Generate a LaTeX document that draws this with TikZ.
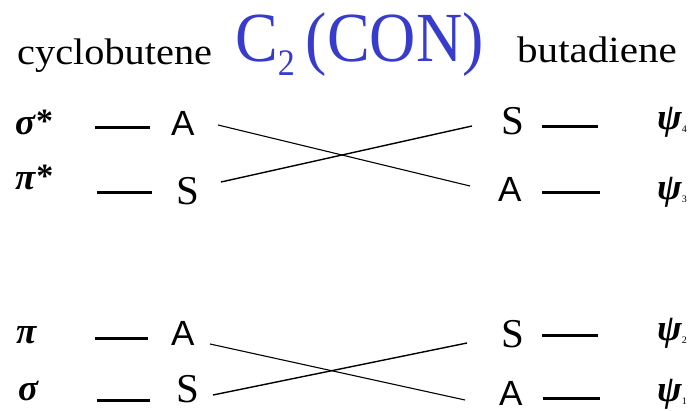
\documentclass[tikz,border=0pt]{standalone}
\usepackage{fontspec}
\usepackage{graphicx}
\setmainfont{Liberation Serif}
\newfontfamily\sansA{Liberation Sans}
\definecolor{titleblue}{RGB}{56,60,204}
\tikzset{
  head/.style={anchor=base west, inner sep=0pt, font=\fontsize{37}{37}\selectfont},
  greek/.style={anchor=base west, inner sep=0pt, font=\fontsize{37}{37}\selectfont\bfseries\itshape},
  symA/.style={anchor=base west, inner sep=0pt, font=\fontsize{35}{35}\selectfont\sansA},
  symS/.style={anchor=base west, inner sep=0pt, font=\fontsize{41}{41}\selectfont},
  psi/.style={anchor=base west, inner sep=0pt, font=\fontsize{37}{37}\selectfont\bfseries\itshape},
  level/.style={line width=3pt},
  corrS/.style={line width=1.4pt},
  corrA/.style={line width=1.1pt}
}
\newcommand{\psisub}[1]{\raisebox{-3pt}{\fontsize{10}{10}\selectfont\upshape\mdseries #1}}
\newcommand{\starsup}{\hspace{1pt}\raisebox{2pt}{\fontsize{34}{34}\selectfont\upshape\bfseries *}}
\begin{document}
\begin{tikzpicture}[x=1pt,y=-1pt]
\useasboundingbox (0,0) rectangle (695,411);
% headings
\node[head] (cb) at (17,65) {\scalebox{1.09}[1]{cyclobutene}};
\node[head] (bd) at (517,63) {\scalebox{1.11}[1]{butadiene}};
\node[anchor=base west, inner sep=0pt, text=titleblue] (title) at (235,62)
  {\scalebox{1}[1.1]{\fontsize{64}{64}\selectfont C\raisebox{-12pt}{\fontsize{34}{34}\selectfont 2}\hspace{11pt}(CON)}};
% left labels
\node[greek] (g1) at (15,135) {σ\starsup};
\node[greek] (g2) at (15,190) {π\starsup};
\node[greek] (g3) at (16,343) {π};
\node[greek] (g4) at (18,400) {σ};
% left levels
\draw[level] (95,128) -- (150,128);
\draw[level] (97,193) -- (152,193);
\draw[level] (95,338) -- (148,338);
\draw[level] (97,400) -- (150,400);
% left symmetry labels
\node[symA] (L1) at (171,136) {A};
\node[symS] (L2) at (176,205) {S};
\node[symA] (L3) at (171,345) {A};
\node[symS] (L4) at (176,402) {S};
% right symmetry labels
\node[symS] (R1) at (501,135) {S};
\node[symA] (R2) at (498,202) {A};
\node[symS] (R3) at (501,347) {S};
\node[symA] (R4) at (499,405) {A};
% right levels
\draw[level] (542,127) -- (598,127);
\draw[level] (542,193) -- (600,193);
\draw[level] (542,335) -- (598,335);
\draw[level] (543,398) -- (600,398);
% psi labels
\node[psi] (p4) at (657,130) {ψ\psisub{4}};
\node[psi] (p3) at (657,200) {ψ\psisub{3}};
\node[psi] (p2) at (657,340) {ψ\psisub{2}};
\node[psi] (p1) at (657,401) {ψ\psisub{1}};
% correlation end points
\coordinate (a1) at (218,125);
\coordinate (s2) at (221,182);
\coordinate (a3) at (210,344);
\coordinate (s4) at (213,395);
\coordinate (b1) at (472,126);
\coordinate (b2) at (470,186);
\coordinate (b3) at (467,343);
\coordinate (b4) at (465,400);
% correlation lines
\draw[corrA] (a1) -- (b2);
\draw[corrS] (s2) -- (b1);
\draw[corrA] (a3) -- (b4);
\draw[corrS] (s4) -- (b3);
\end{tikzpicture}
\end{document}
